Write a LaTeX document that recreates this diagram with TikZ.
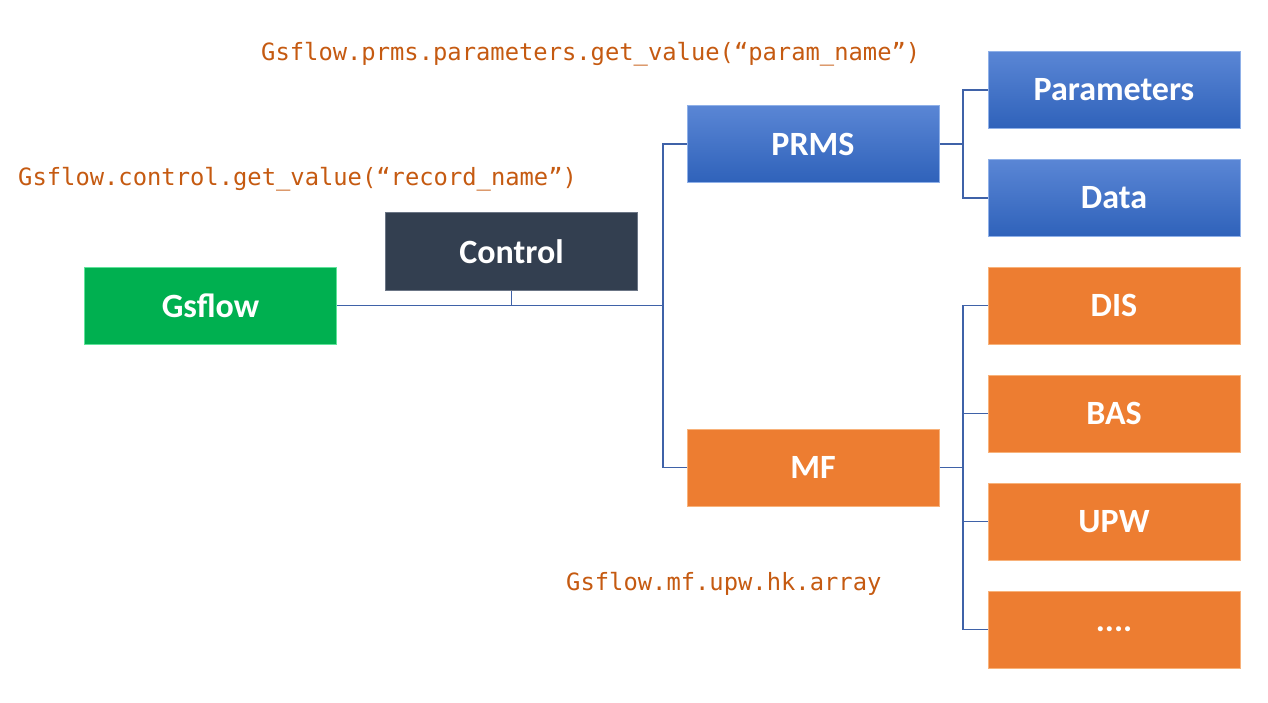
\documentclass[tikz,border=0pt]{standalone}
\usepackage{fontspec}
\setmainfont{Carlito}
\newfontfamily\codefont{DejaVu Sans Mono}
\definecolor{gsgreen}{HTML}{00B050}
\definecolor{gsgreenlt}{HTML}{5FE39A}
\definecolor{ctlgray}{HTML}{333F50}
\definecolor{ctlgraylt}{HTML}{6B7585}
\definecolor{prmstop}{HTML}{5A86D5}
\definecolor{prmsbot}{HTML}{2F62BA}
\definecolor{prmslt}{HTML}{8FB0E8}
\definecolor{mforange}{HTML}{ED7D31}
\definecolor{mforangelt}{HTML}{F8B27A}
\definecolor{codecol}{HTML}{C55A11}
\definecolor{linkcol}{HTML}{3F62A8}
\begin{document}
\begin{tikzpicture}[x=1pt,y=-1pt,
  every node/.style={inner sep=0pt},
  box/.style={rectangle,minimum width=252pt,minimum height=77pt,text=white,font=\fontsize{34}{40}\selectfont\bfseries,line width=1pt},
  gsbox/.style={box,fill=gsgreen,draw=gsgreenlt},
  ctlbox/.style={box,fill=ctlgray,draw=ctlgraylt},
  prmsbox/.style={box,top color=prmstop,bottom color=prmsbot,draw=prmslt},
  mfbox/.style={box,fill=mforange,draw=mforangelt},
  code/.style={anchor=west,text=codecol,font=\codefont\fontsize{23.8}{28}\selectfont},
  link/.style={draw=linkcol,line width=1.3pt}]
\useasboundingbox (0,0) rectangle (1268,703);
% Top level
\node(gs)[gsbox] at (210.5,305.5) {Gsflow};
\node(ctl)[ctlbox] at (511.5,251.5) {Control};
% Models
\node(prms)[prmsbox] at (813,144) {PRMS};
\node(mf)[mfbox] at (813,467.5) {MF};
% PRMS parts
\node(par)[prmsbox] at (1114,90) {Parameters};
\node(dat)[prmsbox] at (1114,198) {Data};
% MF packages
\node(dis)[mfbox] at (1114,305.5) {DIS};
\node(bas)[mfbox] at (1114,413.5) {BAS};
\node(upw)[mfbox] at (1114,521.5) {UPW};
\node(dots)[mfbox] at (1114,629.5) {....};
% Junctions
\coordinate (j1) at (663,305.5);
\coordinate (j2) at (963,144);
\coordinate (j3) at (963,467.5);
% Links
\path[link] (gs.east) -- (j1);
\path[link] (ctl.south) -- (ctl.south |- j1);
\path[link] (prms.west) -| (j1) |- (mf.west);
\path[link] (prms.east) -- (j2);
\path[link] (par.west) -| (j2) |- (dat.west);
\path[link] (mf.east) -- (j3);
\path[link] (dis.west) -| (j3) |- (dots.west);
\path[link] (j3) |- (bas.west);
\path[link] (j3) |- (upw.west);
% Access examples
\node(cprms)[code] at (261,54) {Gsflow.prms.parameters.get\_value(“param\_name”)};
\node(cctl)[code] at (18,179) {Gsflow.control.get\_value(“record\_name”)};
\node(cmf)[code] at (566,584) {Gsflow.mf.upw.hk.array};
\end{tikzpicture}
\end{document}
